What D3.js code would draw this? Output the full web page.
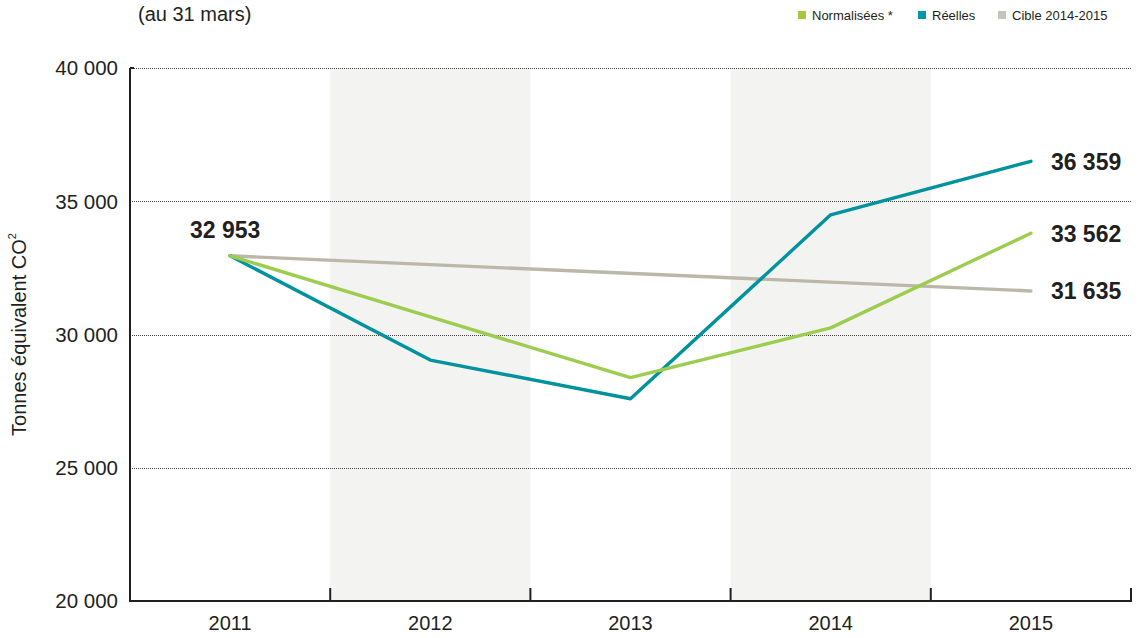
<!DOCTYPE html>
<html>
<head>
<meta charset="utf-8">
<script src="https://cdn.jsdelivr.net/npm/d3@7"></script>
<style>
    body { margin: 0; background: #fff; }
    svg text { font-family: "Liberation Sans", Arial, sans-serif; fill: #231f20; }
</style>
</head>
<body>
<svg id="chart"></svg>
<script>

// data
const years = ['2011', '2012', '2013', '2014', '2015']
const reelles = [32953, 29040, 27590, 34490, 36500]
const normalisees = [32953, 30660, 28380, 30250, 33800]
const cibleYears = ['2011', '2015']
const cible = [32953, 31635]
const shadedYears = ['2012', '2014']
const yTicks = [20000, 25000, 30000, 35000, 40000]
const endLabels = ['36 359', '33 562', '31 635']
const startLabel = '32 953'

const width = 1140
const height = 638
const margin = {top: 68, right: 8, bottom: 37, left: 130}

const colors = {
    normalisees: '#9dcd4f',
    reelles: '#00939d',
    cible: '#bbb8aa'
}

const svg = d3.select('#chart')
    .attr('width', width)
    .attr('height', height)

const x = d3.scaleBand()
    .domain(years)
    .range([margin.left, width - margin.right - 1])

const y = d3.scaleLinear()
    .domain([20000, 40000])
    .range([height - margin.bottom, margin.top])

const cx = d => x(d) + x.bandwidth() / 2

// shaded bands
svg.append('g')
    .selectAll('rect')
    .data(shadedYears)
    .join('rect')
    .attr('x', d => x(d))
    .attr('y', y(40000))
    .attr('width', x.bandwidth())
    .attr('height', y(20000) - y(40000))
    .attr('fill', '#f3f3f1')

// dotted grid lines
svg.append('g')
    .selectAll('line')
    .data(yTicks.filter(d => d > 20000))
    .join('line')
    .attr('x1', margin.left)
    .attr('x2', width - margin.right)
    .attr('y1', d => Math.round(y(d)) + 0.5)
    .attr('y2', d => Math.round(y(d)) + 0.5)
    .attr('stroke', '#444')
    .attr('stroke-width', 1)
    .attr('stroke-dasharray', '1,1')

// y axis
const fmt = d => d3.format(',')(d).replace(',', ' ')
const yAxis = svg.append('g')
    .attr('transform', `translate(${margin.left},0)`)
    .call(d3.axisLeft(y).tickValues(yTicks).tickSize(0).tickPadding(12).tickFormat(fmt))
yAxis.select('.domain').remove()
yAxis.selectAll('text')
    .attr('font-size', '20.5px')
    .attr('fill', '#231f20')
    .attr('dy', '0.34em')

svg.append('line')
    .attr('x1', margin.left).attr('x2', margin.left)
    .attr('y1', y(40000)).attr('y2', y(20000) + 1)
    .attr('stroke', '#231f20').attr('stroke-width', 2)
svg.append('line')
    .attr('x1', margin.left).attr('x2', margin.left + 4)
    .attr('y1', y(40000)).attr('y2', y(40000))
    .attr('stroke', '#231f20').attr('stroke-width', 2)

// x axis
const xAxis = svg.append('g')
    .attr('transform', `translate(0,${y(20000)})`)
    .call(d3.axisBottom(x).tickSize(0).tickPadding(15))
xAxis.select('.domain').remove()
xAxis.selectAll('text')
    .attr('font-size', '20px')
    .attr('fill', '#231f20')

svg.append('line')
    .attr('x1', margin.left - 1).attr('x2', x.range()[1] + 1)
    .attr('y1', y(20000)).attr('y2', y(20000))
    .attr('stroke', '#231f20').attr('stroke-width', 2)

svg.append('g')
    .selectAll('line')
    .data(years.slice(1).map(d => x(d)).concat([x.range()[1]]))
    .join('line')
    .attr('x1', d => d).attr('x2', d => d)
    .attr('y1', y(20000)).attr('y2', y(20000) - 13)
    .attr('stroke', '#231f20').attr('stroke-width', 2)

// y title
svg.append('text')
    .attr('transform', `translate(26,${(y(20000) + y(40000)) / 2}) rotate(-90)`)
    .attr('text-anchor', 'middle')
    .attr('font-size', '20px')
    .text('Tonnes équivalent CO')
    .append('tspan')
    .attr('font-size', '11px')
    .attr('dy', '-0.9em')
    .text('2')

// subtitle
svg.append('text')
    .attr('x', 138)
    .attr('y', 21)
    .attr('font-size', '20px')
    .text('(au 31 mars)')

// lines
const line = d3.line()
    .x(d => cx(d[0]))
    .y(d => y(d[1]))

const series = [
    {name: 'cible', pts: d3.zip(cibleYears, cible)},
    {name: 'reelles', pts: d3.zip(years, reelles)},
    {name: 'normalisees', pts: d3.zip(years, normalisees)}
]

svg.append('g')
    .selectAll('path')
    .data(series)
    .join('path')
    .attr('d', d => line(d.pts))
    .attr('fill', 'none')
    .attr('stroke', d => colors[d.name])
    .attr('stroke-width', 3.4)
    .attr('stroke-linejoin', 'round')
    .attr('stroke-linecap', 'round')

// value labels
svg.append('text')
    .attr('x', cx('2011') - 5)
    .attr('y', y(normalisees[0]) - 18)
    .attr('text-anchor', 'middle')
    .attr('font-size', '23px')
    .attr('font-weight', 'bold')
    .text(startLabel)

const ends = [reelles[4], normalisees[4], cible[1]]
svg.append('g')
    .selectAll('text')
    .data(ends)
    .join('text')
    .attr('x', cx('2015') + 20)
    .attr('y', d => y(d))
    .attr('dy', '0.36em')
    .attr('font-size', '23px')
    .attr('font-weight', 'bold')
    .text((d, i) => endLabels[i])

// legend
const legendItems = [
    {label: 'Normalisées *', color: '#a7c43b', x: 798},
    {label: 'Réelles', color: '#0199a9', x: 918},
    {label: 'Cible 2014-2015', color: '#c6c4b8', x: 998}
]
const legend = svg.append('g')
legend.selectAll('rect')
    .data(legendItems)
    .join('rect')
    .attr('x', d => d.x)
    .attr('y', 11)
    .attr('width', 8)
    .attr('height', 8)
    .attr('fill', d => d.color)
legend.selectAll('text')
    .data(legendItems)
    .join('text')
    .attr('x', d => d.x + 14)
    .attr('y', 20)
    .attr('font-size', '13px')
    .text(d => d.label)

</script>
</body>
</html>
